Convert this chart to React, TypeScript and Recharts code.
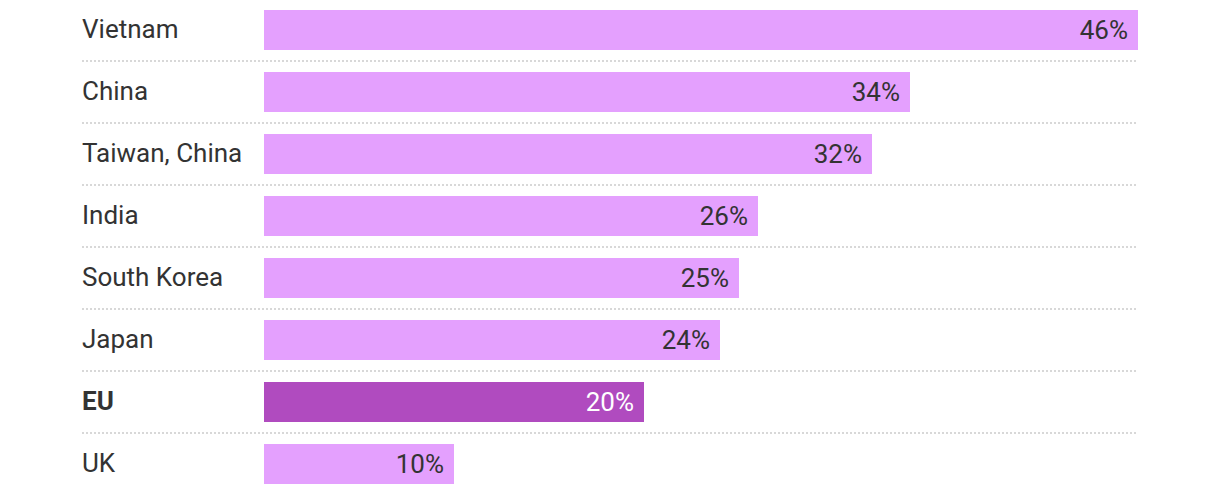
import React from "react";
import { BarChart, Bar, XAxis, YAxis, Cell, LabelList } from "recharts";

const countries = ["Vietnam", "China", "Taiwan, China", "India", "South Korea", "Japan", "EU", "UK"];
const shares = [46, 34, 32, 26, 25, 24, 20, 10];
const highlight = ["EU"];

const data = countries.map((c, i) => ({ country: c, value: shares[i] }));

const LIGHT = "#e4a0fe";
const DARK = "#b04bbf";
const TEXT = "#333333";
const FONT = "Roboto, sans-serif";

const PLOT_RIGHT = 1138;

const Tick = (props: any) => {
  const { y, payload } = props;
  const isHi = highlight.includes(payload.value);
  return (
    <g>
      <text
        x={82}
        y={y}
        dy={8}
        textAnchor="start"
        fontFamily={FONT}
        fontSize={26}
        fontWeight={isHi ? 700 : 400}
        fill={TEXT}
      >
        {payload.value}
      </text>
      <line
        x1={82}
        x2={PLOT_RIGHT}
        y1={y + 31}
        y2={y + 31}
        stroke="#cccccc"
        strokeWidth={1.5}
        strokeDasharray="2 2"
      />
    </g>
  );
};

const ValueLabel = (props: any) => {
  const { x, y, width, height, value, index } = props;
  const isHi = highlight.includes(countries[index]);
  return (
    <text
      x={x + width - 10}
      y={y + height / 2}
      dy={9}
      textAnchor="end"
      fontFamily={FONT}
      fontSize={26}
      fill={isHi ? "#ffffff" : TEXT}
    >
      {value}%
    </text>
  );
};

export default function App() {
  return (
    <div style={{ position: "absolute", left: 0, top: 0 }}>
      <BarChart
        width={1220}
        height={494}
        layout="vertical"
        data={data}
        margin={{ top: -1, right: 1220 - PLOT_RIGHT, bottom: -1, left: 0 }}
        barSize={40}
      >
        <XAxis type="number" domain={[0, 46]} hide />
        <YAxis
          type="category"
          dataKey="country"
          width={264}
          axisLine={false}
          tickLine={false}
          tick={<Tick />}
          interval={0}
        />
        <Bar dataKey="value" isAnimationActive={false}>
          {data.map((d) => (
            <Cell key={d.country} fill={highlight.includes(d.country) ? DARK : LIGHT} />
          ))}
          <LabelList dataKey="value" content={<ValueLabel />} />
        </Bar>
      </BarChart>
    </div>
  );
}
